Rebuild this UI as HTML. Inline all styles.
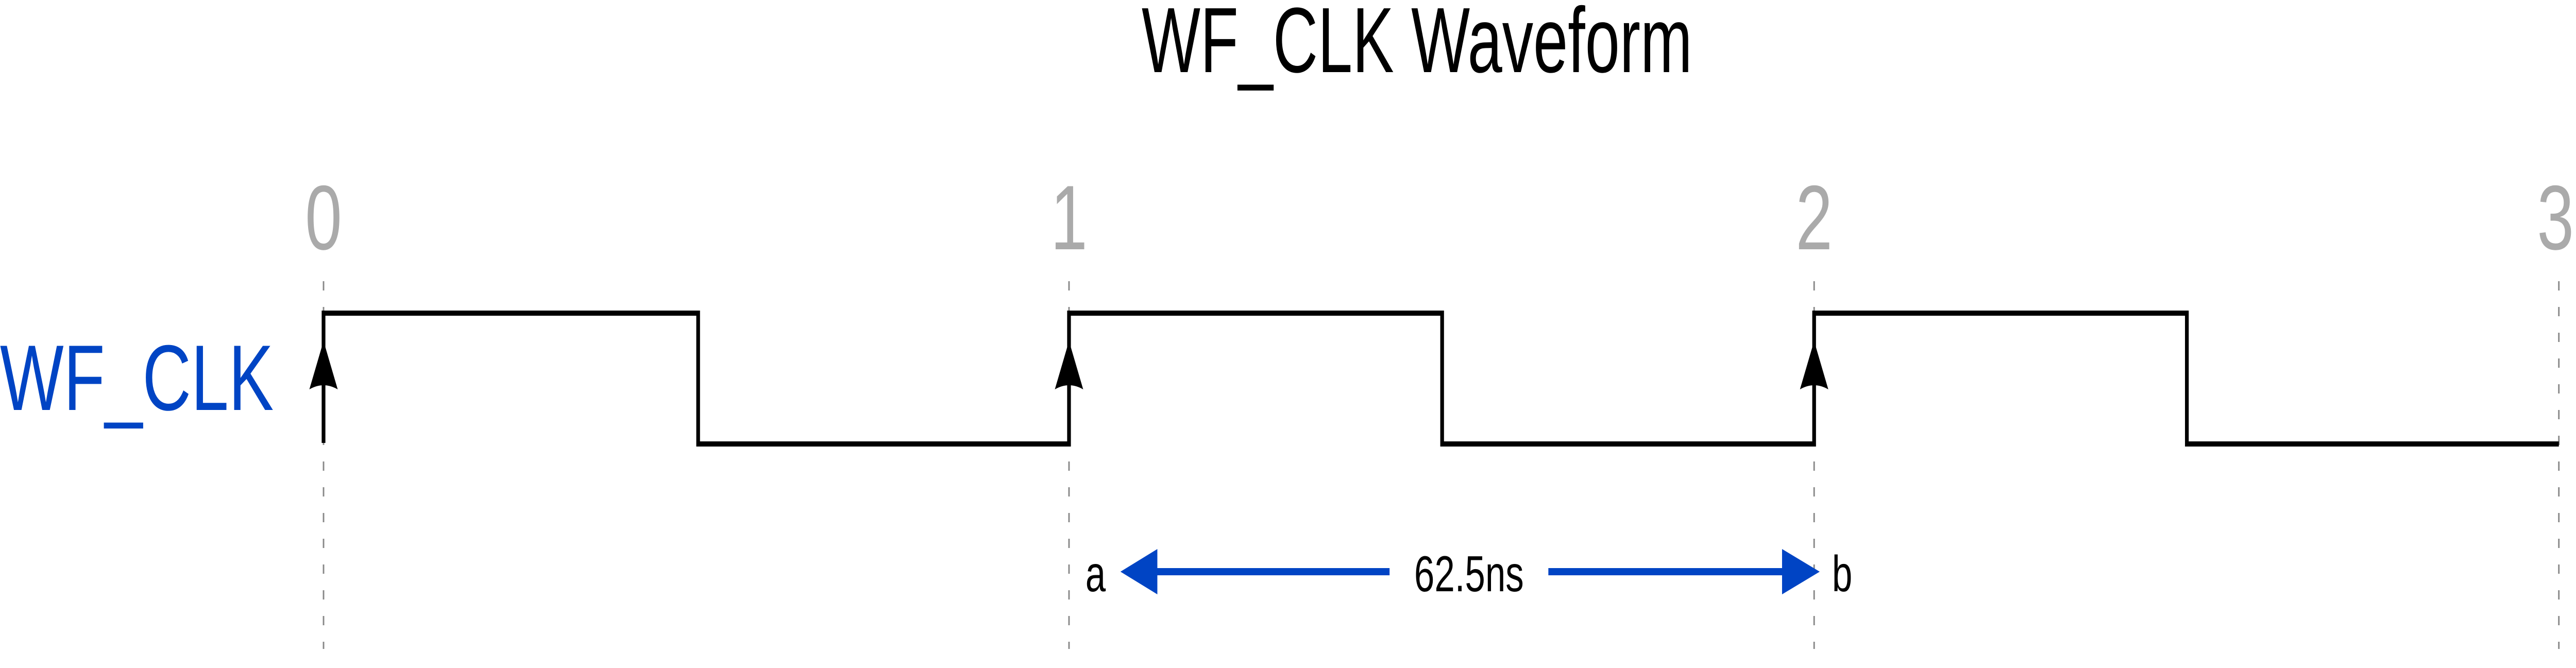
<!DOCTYPE html>
<html><head><meta charset="utf-8"><style>html,body{margin:0;padding:0;background:#fff;overflow:hidden;width:100%;height:100%}svg{display:block;width:100vw;height:100vh}</style></head>
<body>
<svg viewBox="0 0 6911 1297" preserveAspectRatio="none" xmlns="http://www.w3.org/2000/svg" font-family="Liberation Sans, Arial, sans-serif">
<text x="3063" y="140" font-size="180" fill="#000" textLength="1477" lengthAdjust="spacingAndGlyphs">WF_CLK Waveform</text>
<g fill="#aaaaaa" font-size="178" text-anchor="middle">
<text x="868" y="484">0</text><text x="2868" y="484">1</text><text x="4867" y="484">2</text><text x="6856" y="484">3</text>
</g>
<g stroke="#888" stroke-width="4" stroke-dasharray="18 32">
<line x1="868" y1="546" x2="868" y2="1260"/><line x1="2868" y1="546" x2="2868" y2="1260"/><line x1="4867" y1="546" x2="4867" y2="1260"/><line x1="6865" y1="546" x2="6865" y2="1260"/>
</g>
<text x="0" y="796" font-size="181" fill="#0044c4">WF_CLK</text>
<polyline fill="none" stroke="#000" stroke-width="10" points="868,860 868,608 1873,608 1873,862 2868,862 2868,608 3869,608 3869,862 4867,862 4867,608 5867,608 5867,862 6865,862"/>
<g fill="#000">
<path d="M868,662 L830,756 Q868,740 906,756 Z"/><path d="M2868,662 L2830,756 Q2868,740 2906,756 Z"/><path d="M4867,662 L4829,756 Q4867,740 4905,756 Z"/>
</g>
<g fill="#0044c4">
<rect x="3100" y="1103" width="628" height="14"/>
<path d="M3006,1110 L3105,1066 L3105,1154 Z"/>
<rect x="4154" y="1103" width="630" height="14"/>
<path d="M4882,1110 L4781,1066 L4781,1154 Z"/>
</g>
<g font-size="98" fill="#000">
<text x="2912" y="1148">a</text>
<text x="3794" y="1148">62.5ns</text>
<text x="4915" y="1148">b</text>
</g>
</svg>
</body></html>
